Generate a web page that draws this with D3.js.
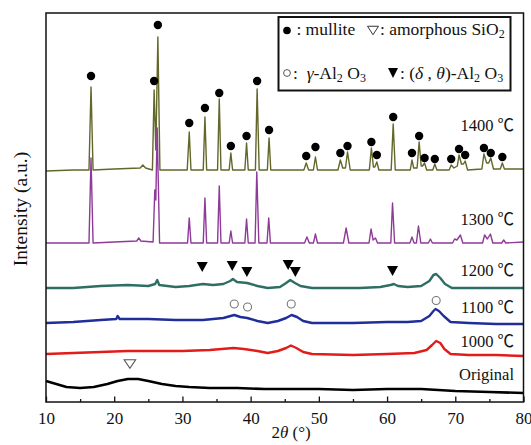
<!DOCTYPE html>
<html><head><meta charset="utf-8">
<script src="https://cdn.jsdelivr.net/npm/d3@7"></script>
<style>
html,body{margin:0;padding:0;background:#fff;}
svg{display:block;}
text{white-space:pre;font-family:"Liberation Serif","Times New Roman","Noto Sans CJK SC",serif;}
</style></head><body>
<svg id="c" width="531" height="445"></svg>
<script>
// ---------- DATA (2theta in degrees, intensity in a.u., stacked) ----------
const xTicks = [10, 20, 30, 40, 50, 60, 70, 80];
const xMinorTicks = [15, 25, 35, 45, 55, 65, 75];
const seriesLabels = ["1400 ℃", "1300 ℃", "1200 ℃", "1100 ℃", "1000 ℃", "Original"];

const s1400 = [[10,231],[14,232],[16.3,232],[16.6,315],[16.9,232],[20,233],[23.8,234],[24.2,237],[24.6,234],[25.6,232],[25.85,312],[26.1,252],[26.4,365],[26.7,232],[30.7,232],[31.0,270],[31.25,232],[33.05,232],[33.3,285],[33.55,232],[35.15,232],[35.4,303],[35.65,232],[36.85,232],[37.1,249],[37.35,232],[39.15,232],[39.4,259],[39.65,232],[40.7,232],[40.95,313],[41.25,232],[42.45,232],[42.7,264],[42.95,232],[47.8,232],[48.15,239],[48.5,232],[49.2,232],[49.5,245],[49.8,232],[52.8,232],[53.15,242],[53.5,234],[53.9,234],[54.2,250],[54.6,232],[57.4,232],[57.7,254],[58.0,235],[58.2,235],[58.5,240],[58.8,232],[60.6,232],[60.9,278],[61.2,232],[63.4,232],[63.65,242],[63.9,234],[64.4,234],[64.7,260],[65.0,236],[65.2,236],[65.5,239],[65.8,232],[66.7,232],[67.0,238],[67.3,232],[69.1,232],[69.4,237],[69.8,234],[70.3,236],[70.55,247],[70.9,238],[71.2,238],[71.45,241],[71.8,232],[73.9,233],[74.2,248],[74.6,239],[74.9,239],[75.2,244],[75.6,233],[76.6,233],[76.9,239],[77.2,233],[80,233]];

const s1300 = [[10,159],[16.3,159],[16.6,244],[16.9,159],[20,160],[23.3,161],[23.6,164],[23.9,161],[25.7,160],[25.95,212],[26.1,202],[26.3,274],[26.65,159],[30.75,159],[31.0,184],[31.25,159],[33.05,159],[33.3,204],[33.55,159],[35.15,159],[35.4,216],[35.65,159],[36.85,159],[37.1,171],[37.35,159],[39.15,159],[39.4,183],[39.65,159],[40.65,159],[40.9,230],[41.2,159],[42.4,159],[42.65,184],[42.9,159],[47.9,159],[48.25,165],[48.6,159],[49.2,159],[49.5,168],[49.8,159],[53.6,159],[54.0,174],[54.4,159],[57.35,159],[57.65,173],[57.95,162],[58.3,164],[58.6,159],[60.55,159],[60.8,199],[61.1,159],[63.35,159],[63.65,165],[63.95,159],[64.3,159],[64.6,176],[64.95,159],[66.05,159],[66.35,163],[66.65,159],[69.6,159],[69.9,163],[70.25,162],[70.75,167],[71.1,159],[74.0,159],[74.3,167],[74.7,163],[75.15,168],[75.5,159],[76.8,159],[77.1,162],[77.4,159],[80,160]];

const s1200 = [[10,114],[14,114],[18,116],[22,117],[25,116],[26.0,118],[26.3,122],[26.6,117],[29,115],[31,116],[33,118],[34.5,117],[36,118],[37.0,121],[37.4,123],[38,120],[39.5,119],[41,116],[42.5,114],[44.3,115],[45.2,119],[45.8,122],[46.5,119],[47.3,116],[49,114],[52,114],[56,114],[59,115],[60.5,117],[61.0,118],[61.6,116],[63,115],[65,116],[66.2,121],[66.8,127],[67.2,128],[67.8,124],[68.5,118],[69.5,114],[72,114],[76,114],[80,114]];

const s1100 = [[10,79],[14,80],[18,82],[20.3,83],[20.5,86],[20.8,83],[25,83],[29,82],[33,82],[36,84],[37.6,87],[38.5,85],[39.5,84],[41,81],[42.5,79],[44,81],[45.2,84],[46.0,87],[46.8,85],[47.7,81],[49,79],[55,79],[60,80],[63,80],[65,81],[66.2,86],[66.8,91],[67.1,93],[67.6,91],[68.3,86],[69.3,80],[72,79],[76,78],[80,78]];

const s1000 = [[10,48],[14,49],[18,50],[22,51],[26,51],[30,51],[34,52],[37.5,54],[39,53],[41,51],[42.5,49],[44,51],[45.2,54],[45.9,56.5],[46.7,54],[47.7,50],[49,48],[55,47],[60,48],[64,49],[65.8,52],[66.6,57],[67.2,61],[67.8,59],[68.4,53],[69.3,48],[72,47],[76,47],[80,46]];

const sOriginal = [[10,21],[11.5,18],[13,15],[15,14],[17,15],[19,18],[20.5,21],[22,23],[23.5,23],[25,21],[27,18],[29,16],[31,15],[34,14],[38,14],[42,13],[46,13],[50,13],[55,12],[60,13],[65,13],[70,11],[75,10],[80,9]];

// phase markers [2theta, intensity]
const mulliteMarks = [[16.6,326],[25.85,321],[26.4,377],[31.0,279],[33.3,294],[35.4,309],[37.1,256],[39.4,266],[40.95,321],[42.7,272],[48.15,246],[49.5,255],[53.15,249],[54.2,256],[57.7,260],[58.5,247],[60.9,285],[63.65,249],[64.7,266],[65.5,244],[67.0,243],[69.4,243],[70.55,253],[71.45,247],[74.2,254],[75.2,249],[76.9,245]];
const deltaThetaMarks = [[32.9,135],[37.3,136],[39.45,130],[45.5,137],[46.55,130],[60.8,131]];
const gammaMarks = [[37.6,98],[39.55,95],[45.95,98],[67.2,101.5]];
const silicaMarks = [[22.3,38]];

// ---------- LAYOUT / STYLE ----------
const seriesData = [s1400, s1300, s1200, s1100, s1000, sOriginal];
const seriesColors = ["#63672a", "#8e3a98", "#2f6e64", "#1f2e99", "#e21b1b", "#000000"];
const seriesWidths = [1.4, 1.4, 2.4, 2.4, 2.4, 2.6];
const labelBaselines = [131, 225, 276, 313, 347, 380];

const M = {left: 46, right: 523.5, top: 13, bottom: 402};
const x = d3.scaleLinear().domain([10, 80]).range([M.left, M.right]);
const y = d3.scaleLinear().domain([0, 389]).range([M.bottom, M.top]);

const svg = d3.select("#c");

const line = d3.line().x(d => x(d[0])).y(d => y(d[1]));
seriesData.forEach((s, i) => {
  svg.append("path").datum(s).attr("d", line)
    .attr("fill", "none").attr("stroke", seriesColors[i])
    .attr("stroke-width", seriesWidths[i]).attr("stroke-linejoin", "round");
});

seriesLabels.forEach((t, i) => {
  svg.append("text").attr("x", 514).attr("y", labelBaselines[i])
    .attr("text-anchor", "end").attr("font-size", 16.5).attr("fill", "#111").text(t);
});

function triPath(cx, cy, w, h, down) {
  const s = down ? 1 : -1;
  return `M${cx - w/2},${cy - s*h/2}L${cx + w/2},${cy - s*h/2}L${cx},${cy + s*h/2}Z`;
}
svg.append("g").selectAll("circle").data(mulliteMarks).join("circle")
  .attr("cx", d => x(d[0])).attr("cy", d => y(d[1])).attr("r", 4.2).attr("fill", "#000");
svg.append("g").selectAll("path").data(deltaThetaMarks).join("path")
  .attr("d", d => triPath(x(d[0]), y(d[1]), 11, 10, true)).attr("fill", "#000");
svg.append("g").selectAll("circle").data(gammaMarks).join("circle")
  .attr("cx", d => x(d[0])).attr("cy", d => y(d[1])).attr("r", 4)
  .attr("fill", "none").attr("stroke", "#777").attr("stroke-width", 1.1);
svg.append("g").selectAll("path").data(silicaMarks).join("path")
  .attr("d", d => triPath(x(d[0]), y(d[1]), 11.5, 8.5, true))
  .attr("fill", "none").attr("stroke", "#555").attr("stroke-width", 1.1);

svg.append("rect").attr("x", M.left).attr("y", M.top)
  .attr("width", M.right - M.left).attr("height", M.bottom - M.top)
  .attr("fill", "none").attr("stroke", "#111").attr("stroke-width", 1.5);

const gx = svg.append("g").attr("transform", `translate(0,${M.bottom})`)
  .call(d3.axisBottom(x).tickValues(xTicks).tickSize(-5.5).tickPadding(10).tickFormat(d3.format("d")));
gx.attr("font-family", null).attr("font-size", null);
gx.select(".domain").remove();
gx.selectAll("line").attr("stroke", "#111").attr("stroke-width", 1.3);
gx.selectAll("text").attr("font-size", 17).attr("fill", "#111");
const gm = svg.append("g").attr("transform", `translate(0,${M.bottom})`)
  .call(d3.axisBottom(x).tickValues(xMinorTicks).tickSize(-3).tickFormat(""));
gm.select(".domain").remove();
gm.selectAll("line").attr("stroke", "#111").attr("stroke-width", 1.3);

const xt = svg.append("text").attr("x", 291).attr("y", 438).attr("text-anchor", "middle")
  .attr("font-size", 17).attr("fill", "#111");
xt.append("tspan").text("2");
xt.append("tspan").attr("font-style", "italic").text("θ");
xt.append("tspan").text(" (°)");

svg.append("text").attr("transform", "translate(27,209) rotate(-90)")
  .attr("text-anchor", "middle").attr("font-size", 19.5).attr("fill", "#111")
  .text("Intensity (a.u.)");

// legend
svg.append("rect").attr("x", 278.5).attr("y", 17).attr("width", 232).attr("height", 73.5)
  .attr("fill", "#fff").attr("stroke", "#111").attr("stroke-width", 2);

function rich(xp, yp, segs) {
  const t = svg.append("text").attr("x", xp).attr("y", yp).attr("font-size", 17.5).attr("fill", "#111");
  segs.forEach(s => {
    const sp = t.append("tspan").text(s.t);
    if (s.it) sp.attr("font-style", "italic");
    if (s.sub) sp.attr("font-size", 12).attr("baseline-shift", "-22%");
  });
}
svg.append("circle").attr("cx", 287).attr("cy", 30.5).attr("r", 3.8).attr("fill", "#000");
rich(292, 35, [{t: " : mullite"}]);
svg.append("path").attr("d", triPath(373, 30.5, 11, 8.5, true))
  .attr("fill", "none").attr("stroke", "#333").attr("stroke-width", 1);
rich(380, 35, [{t: ": amorphous SiO"}, {t: "2", sub: true}]);

svg.append("circle").attr("cx", 287).attr("cy", 73).attr("r", 3.4)
  .attr("fill", "none").attr("stroke", "#555").attr("stroke-width", 1);
rich(293, 79, [{t: ":  "}, {t: "γ", it: true}, {t: "-Al"}, {t: "2", sub: true}, {t: " O"}, {t: "3", sub: true}]);
svg.append("path").attr("d", triPath(393, 73, 10, 10, true)).attr("fill", "#000");
rich(400, 79, [{t: ": ("}, {t: "δ", it: true}, {t: " , "}, {t: "θ", it: true}, {t: ")-Al"}, {t: "2", sub: true}, {t: " O"}, {t: "3", sub: true}]);
</script>
</body></html>
